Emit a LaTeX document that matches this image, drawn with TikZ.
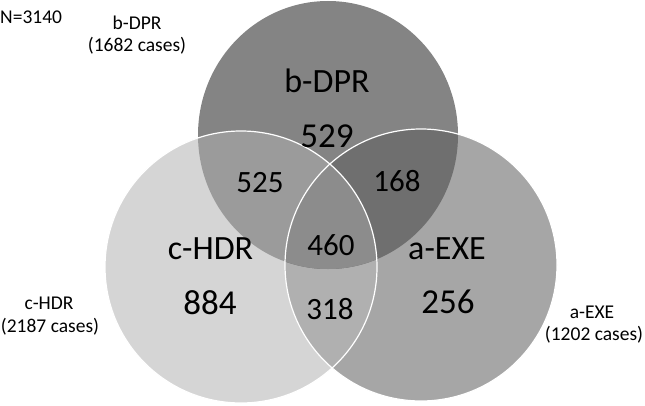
\documentclass[tikz,border=0pt]{standalone}
\usepackage{fontspec}
\setmainfont{Carlito}
\newcommand\vennT{(328,135) ellipse [x radius=130pt, y radius=134pt]}
\newcommand\vennL{(241,267) circle [radius=136pt]}
\newcommand\vennR{(421,265) circle [radius=136pt]}
\begin{document}
\begin{tikzpicture}[x=1pt,y=-1pt,
  biglbl/.style={anchor=base,inner sep=0pt,font=\fontsize{34}{40}\selectfont},
  bignum/.style={anchor=base,inner sep=0pt,font=\fontsize{35}{40}\selectfont},
  midnum/.style={anchor=base,inner sep=0pt,font=\fontsize{31}{36}\selectfont},
  smalllbl/.style={anchor=base,inner sep=0pt,font=\fontsize{19.5}{22}\selectfont},
  outline/.style={draw=white,line width=1.2pt}]
\useasboundingbox (0,0) rectangle (645,406);
% single regions
\fill[fill={rgb,255:red,132;green,132;blue,132}] \vennT;
\fill[fill={rgb,255:red,213;green,213;blue,213}] \vennL;
\fill[fill={rgb,255:red,166;green,166;blue,166}] \vennR;
% L and R
\begin{scope}
  \clip \vennL;
  \fill[fill={rgb,255:red,176;green,176;blue,176}] \vennR;
\end{scope}
% T and L, T and R
\begin{scope}
  \clip \vennT;
  \fill[fill={rgb,255:red,155;green,155;blue,155}] \vennL;
  \fill[fill={rgb,255:red,111;green,111;blue,111}] \vennR;
  \begin{scope}
    \clip \vennL;
    \fill[fill={rgb,255:red,140;green,140;blue,140}] \vennR;
  \end{scope}
\end{scope}
% white outlines
\draw[outline] \vennL;
\draw[outline] \vennR;
% region labels
\node[biglbl] (tB) at (327,93) {b-DPR};
\node[bignum] (n529) at (327,148) {529};
\node[midnum] (n525) at (260,193) {525};
\node[midnum] (n168) at (397,192) {168};
\node[biglbl] (tC) at (210.5,259) {c-HDR};
\node[midnum] (n460) at (331,255) {460};
\node[biglbl] (tA) at (447,259) {a-EXE};
\node[bignum] (n884) at (210,314) {884};
\node[midnum] (n318) at (330,319) {318};
\node[bignum] (n256) at (448,313) {256};
% outer labels
\node[smalllbl,anchor=base west] (nN) at (0,24) {N=3140};
\node[smalllbl] (sB1) at (137,30) {b-DPR};
\node[smalllbl] (sB2) at (137,52) {(1682 cases)};
\node[smalllbl] (sC1) at (49,309) {c-HDR};
\node[smalllbl] (sC2) at (50,332) {(2187 cases)};
\node[smalllbl] (sA1) at (592,318) {a-EXE};
\node[smalllbl] (sA2) at (594,340) {(1202 cases)};
\end{tikzpicture}
\end{document}
